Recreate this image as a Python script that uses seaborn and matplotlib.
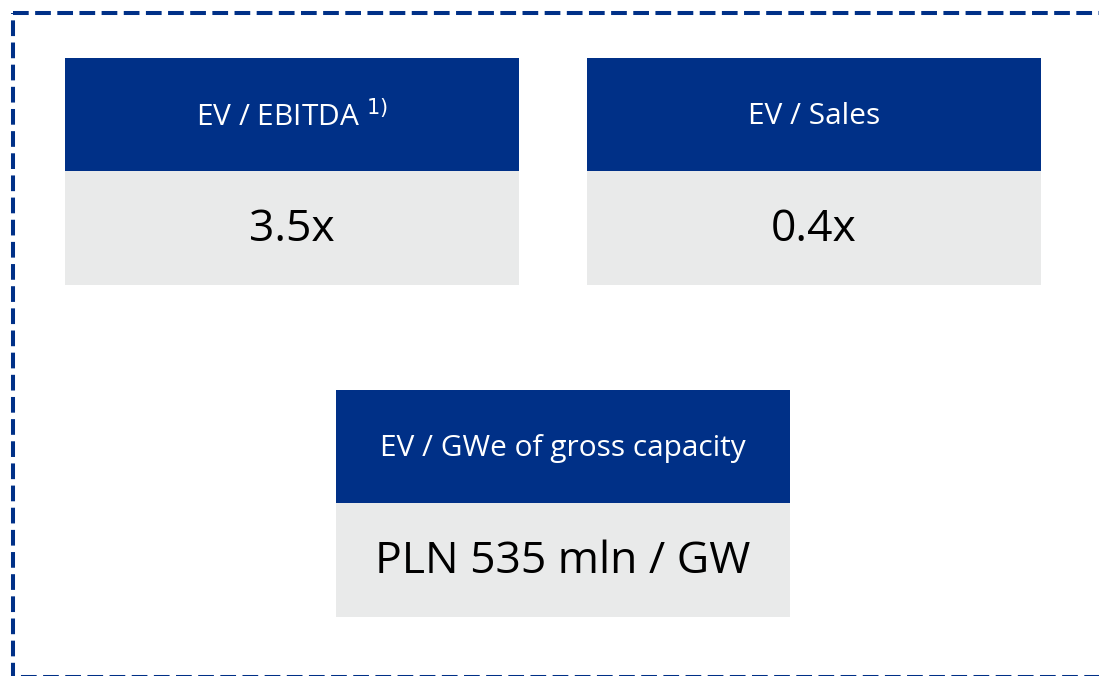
import matplotlib.pyplot as plt
import seaborn as sns
from matplotlib.patches import Rectangle

sns.set_theme(style="white")
plt.rcParams['font.family'] = ['Open Sans', 'DejaVu Sans']

# Data
headers = ['EV / EBITDA', 'EV / Sales', 'EV / GWe of gross capacity']
footnotes = ['1)', '', '']
values = ['3.5x', '0.4x', 'PLN 535 mln / GW']

navy = '#003087'
grey = '#E9EAEA'

fig = plt.figure(figsize=(10.99, 6.76), dpi=100)
ax = fig.add_axes([0, 0, 1, 1])
ax.set_xlim(0, 1099)
ax.set_ylim(676, 0)
ax.axis('off')

# dashed frame (runs off right and bottom edge)
ax.add_patch(Rectangle((13, 13), 1100, 664, fill=False, edgecolor=navy,
                       linewidth=2.9, linestyle=(0, (3.9, 1.6))))

# box positions (left, top)
slots = [(65, 58), (587, 58), (336, 390)]
w, hh, hb = 454, 113, 114

for (x0, y0), head, note, val in zip(slots, headers, footnotes, values):
    ax.add_patch(Rectangle((x0, y0), w, hh, color=navy, linewidth=0))
    ax.add_patch(Rectangle((x0, y0 + hh), w, hb, color=grey, linewidth=0))
    label = head if not note else head + ' $^{' + note + '}$'
    ax.text(x0 + w / 2, y0 + hh / 2 + 2, label, color='white', fontsize=21.5,
            ha='center', va='center', fontweight='medium')
    ax.text(x0 + w / 2, y0 + hh + hb / 2 + 2, val, color='black', fontsize=32,
            ha='center', va='center', fontweight='medium')

fig.savefig('out.png', dpi=100)
